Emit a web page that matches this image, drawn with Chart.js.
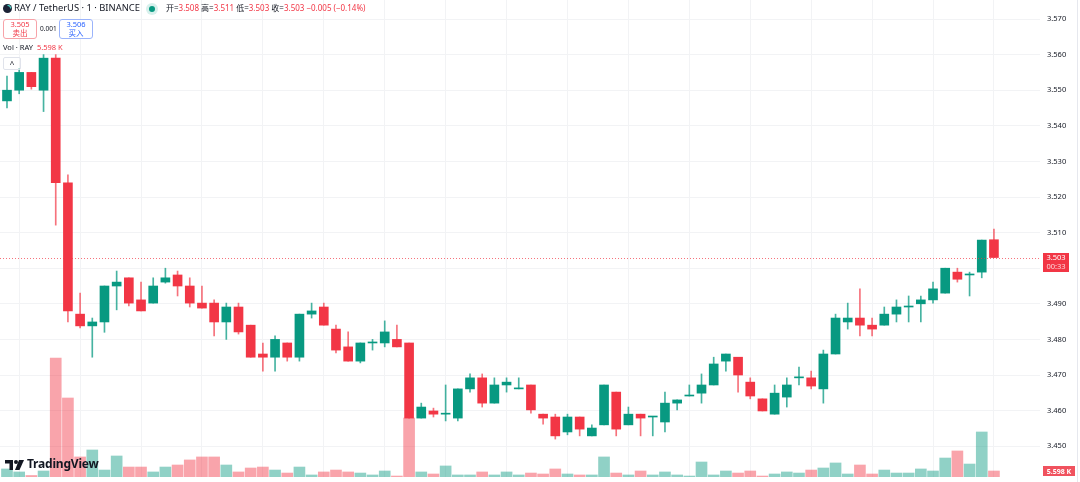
<!DOCTYPE html>
<html>
<head>
<meta charset="utf-8">
<script src="https://cdn.jsdelivr.net/npm/chart.js@4.4.1/dist/chart.umd.min.js"></script>
<style>
    html, body { margin: 0; padding: 0; background: #ffffff; }
    body { width: 1080px; height: 482px; position: relative; overflow: hidden;
           font-family: "Noto Sans", "Noto Sans CJK SC", sans-serif; color: #131722; }
    #wrap { position: absolute; left: 0; top: 0; width: 1080px; height: 482px; }
    .hdr { position: absolute; white-space: nowrap; line-height: 1; }
    .red { color: #F23645; }
    .box { position: absolute; border-radius: 3px; text-align: center; font-size: 7.5px; line-height: 9px; background: #fff; }
    .sell { border: 1px solid #f7a3a9; color: #F23645; }
    .buy { border: 1px solid #9bb4fb; color: #2962FF; }
    .edge { position: absolute; left: 1077px; top: 0; width: 1px; height: 482px; background: #e6e8ee; }
</style>
</head>
<body>
<div id="wrap"><canvas id="candleChart" width="1080" height="482"></canvas></div>
<div class="edge"></div>

<!-- tiêu đề cặp giao dịch -->
<svg class="hdr" style="left:3px;top:4px" width="9" height="9" viewBox="0 0 10 10">
    <circle cx="5" cy="5" r="5" fill="#1b2236"/>
    <path d="M5 1.5 A3.5 3.5 0 0 1 8.5 5" stroke="#4dd0c2" stroke-width="1.4" fill="none"/>
</svg>
<div class="hdr" style="left:14px;top:3px;font-size:9.4px">RAY / TetherUS · 1 · BINANCE</div>
<svg class="hdr" style="left:146px;top:3px" width="12" height="12" viewBox="0 0 12 12">
    <circle cx="6" cy="6" r="6" fill="#d7f0ec"/>
    <circle cx="6" cy="6" r="3" fill="#089981"/>
</svg>
<div class="hdr" style="left:166px;top:4px;font-size:8px">开=<span class="red">3.508</span> 高=<span class="red">3.511</span> 低=<span class="red">3.503</span> 收=<span class="red">3.503</span> <span class="red">−0.005 (−0.14%)</span></div>

<div class="box sell" style="left:3px;top:19px;width:32px;height:18px">3.505<br>卖出</div>
<div class="hdr" style="left:40px;top:26px;font-size:6.5px">0.001</div>
<div class="box buy" style="left:59px;top:19px;width:32px;height:18px">3.506<br>买入</div>

<div class="hdr" style="left:3px;top:44px;font-size:7.5px">Vol · RAY <span class="red" style="margin-left:2px">5.598 K</span></div>
<div class="hdr" style="left:3px;top:57px;width:16px;height:11px;border:1px solid #e0e3eb;border-radius:2px;font-size:8px;text-align:center;line-height:12px">^</div>

<!-- logo -->
<svg class="hdr" style="left:5px;top:460px" width="19" height="10" viewBox="0 0 19 10">
    <path d="M0 0 H8 V10 H4.5 V3.5 H0 Z" fill="#131722"/>
    <circle cx="11" cy="2" r="2" fill="#131722"/>
    <path d="M14 0 H19 L14.5 10 H10 Z" fill="#131722"/>
</svg>
<div class="hdr" style="left:27px;top:458px;font-size:12px;font-weight:bold;letter-spacing:-0.2px">TradingView</div>

<script>
// Dữ liệu nến 1 phút RAY/USDT (mở, cao, thấp, đóng) và khối lượng (K)
const opens  = [3.547, 3.550, 3.555, 3.550, 3.559, 3.524, 3.4871, 3.4838, 3.4849, 3.495,
                3.4973, 3.4911, 3.4902, 3.4961, 3.4981, 3.495, 3.4902, 3.4902, 3.4849, 3.4891,
                3.484, 3.4759, 3.475, 3.479, 3.475, 3.4871, 3.4891, 3.4829, 3.4779, 3.4739,
                3.479, 3.479, 3.480, 3.479, 3.4579, 3.4599, 3.459, 3.4579, 3.4661, 3.4692,
                3.4621, 3.4672, 3.4661, 3.4672, 3.459, 3.4582, 3.454, 3.4582, 3.4529, 3.456,
                3.4652, 3.456, 3.459, 3.4582, 3.4568, 3.4621, 3.4641, 3.4649, 3.4672, 3.4739,
                3.475, 3.468, 3.4633, 3.459, 3.4638, 3.4692, 3.4692, 3.4661, 3.4759, 3.4849,
                3.486, 3.484, 3.484, 3.4871, 3.4891, 3.490, 3.4911, 3.493, 3.4989, 3.4981,
                3.4989, 3.508];
const highs  = [3.554, 3.556, 3.555, 3.560, 3.560, 3.5262, 3.493, 3.486, 3.495, 3.4992,
                3.4973, 3.4961, 3.4973, 3.500, 3.4992, 3.4973, 3.495, 3.4911, 3.4902, 3.4902,
                3.484, 3.479, 3.481, 3.479, 3.4871, 3.4902, 3.4902, 3.484, 3.4821, 3.479,
                3.480, 3.4852, 3.484, 3.479, 3.4621, 3.4607, 3.4672, 3.4661, 3.4703, 3.4703,
                3.4692, 3.4692, 3.4692, 3.4672, 3.459, 3.459, 3.459, 3.4582, 3.456, 3.4672,
                3.4652, 3.461, 3.459, 3.4582, 3.4652, 3.463, 3.4672, 3.4703, 3.475, 3.4759,
                3.475, 3.4692, 3.4633, 3.4672, 3.4692, 3.4722, 3.4711, 3.477, 3.4871, 3.4902,
                3.4942, 3.486, 3.4891, 3.4911, 3.4922, 3.4922, 3.4961, 3.500, 3.500, 3.4989,
                3.5079, 3.511];
const lows   = [3.545, 3.549, 3.5503, 3.544, 3.5121, 3.4849, 3.4832, 3.475, 3.482, 3.4883,
                3.4894, 3.488, 3.4902, 3.4958, 3.4922, 3.4891, 3.4888, 3.481, 3.480, 3.4815,
                3.475, 3.4711, 3.4711, 3.4739, 3.4739, 3.486, 3.484, 3.4762, 3.4739, 3.4734,
                3.477, 3.4779, 3.4779, 3.4579, 3.4579, 3.4582, 3.4571, 3.4571, 3.4652, 3.461,
                3.4621, 3.4652, 3.4661, 3.4593, 3.4562, 3.452, 3.4532, 3.4529, 3.4529, 3.456,
                3.4529, 3.456, 3.4529, 3.4529, 3.454, 3.4602, 3.4641, 3.4621, 3.4672, 3.4711,
                3.4652, 3.4633, 3.4599, 3.459, 3.461, 3.4672, 3.4661, 3.4621, 3.4759, 3.4829,
                3.481, 3.481, 3.484, 3.4849, 3.4849, 3.4849, 3.4902, 3.493, 3.4961, 3.4922,
                3.4973, 3.503];
const closes = [3.550, 3.555, 3.551, 3.559, 3.524, 3.488, 3.4838, 3.4849, 3.495, 3.4961,
                3.4902, 3.488, 3.495, 3.4973, 3.495, 3.4902, 3.4888, 3.4849, 3.4891, 3.4821,
                3.475, 3.475, 3.480, 3.475, 3.4871, 3.488, 3.484, 3.477, 3.4739, 3.479,
                3.479, 3.4821, 3.4779, 3.4579, 3.461, 3.4590, 3.459, 3.4661, 3.4692, 3.4621,
                3.4672, 3.468, 3.4661, 3.4602, 3.4579, 3.4529, 3.4582, 3.4548, 3.4551, 3.4672,
                3.4548, 3.459, 3.4579, 3.4582, 3.4621, 3.463, 3.4641, 3.4672, 3.4731, 3.4759,
                3.470, 3.4641, 3.4599, 3.4649, 3.4672, 3.4692, 3.4669, 3.4759, 3.486, 3.486,
                3.484, 3.4829, 3.4871, 3.4891, 3.4891, 3.4911, 3.4942, 3.500, 3.4969, 3.4981,
                3.5079, 3.503];
const volumes = [7.5, 4.7, 1.4, 5.6, 111, 73.7, 18.7, 25.2, 6.5, 19.6,
                 9.3, 9.3, 4.7, 9.3, 11.2, 15.9, 18.7, 18.7, 11.2, 4.7,
                 8.4, 9.3, 6.5, 3.7, 9.3, 1.9, 4.7, 6.5, 4.7, 3.7,
                 1.9, 5.6, 0.9, 55, 4.7, 2.8, 10.3, 1.9, 1.9, 4.7,
                 1.9, 4.7, 1.9, 3.7, 2.8, 7.5, 2.8, 1.9, 1.9, 18.7,
                 3.7, 1.9, 5.6, 1.9, 4.7, 1.9, 0.9, 14, 1.9, 5.6,
                 3.7, 5.6, 0.9, 2.8, 4.7, 3.7, 6.5, 8.4, 13.1, 2.8,
                 11.2, 2.8, 6.5, 3.7, 3.7, 7.5, 5.6, 17.7, 24.3, 12.1,
                 42, 5.598];
const priceTicks = [3.450, 3.460, 3.470, 3.480, 3.490, 3.500, 3.510, 3.520, 3.530, 3.540, 3.550, 3.560, 3.570];
const lastPrice = 3.503;
const lastVolume = '5.598 K';
const countdown = '00:33';

const UP = '#089981';
const DOWN = '#F23645';

// Nhãn giá hiện tại, đường chấm và nhãn khối lượng
const overlayPlugin = {
    id: 'overlay',
    afterDatasetsDraw(chart) {
        const ctx = chart.ctx;
        const area = chart.chartArea;
        const y = Math.round(chart.scales.y.getPixelForValue(lastPrice)) + 0.5;
        ctx.save();
        ctx.strokeStyle = 'rgba(242, 54, 69, 0.7)';
        ctx.lineWidth = 1;
        ctx.setLineDash([1, 2]);
        ctx.beginPath();
        ctx.moveTo(area.left, y);
        ctx.lineTo(area.right, y);
        ctx.stroke();
        ctx.restore();
    },
    afterDraw(chart) {
        const ctx = chart.ctx;
        const y = chart.scales.y.getPixelForValue(lastPrice);
        ctx.save();
        ctx.fillStyle = DOWN;
        ctx.fillRect(1043, Math.round(y) - 5, 26, 19);
        ctx.fillStyle = '#ffffff';
        ctx.font = '7.5px "Noto Sans", sans-serif';
        ctx.textAlign = 'center';
        ctx.textBaseline = 'middle';
        ctx.fillText(lastPrice.toFixed(3), 1056, Math.round(y));
        ctx.fillStyle = 'rgba(255,255,255,0.8)';
        ctx.fillText(countdown, 1056, Math.round(y) + 9);
        // nhãn khối lượng
        ctx.fillStyle = '#F0525E';
        ctx.fillRect(1043, 466, 32, 10);
        ctx.fillStyle = '#ffffff';
        ctx.font = 'bold 7px "Noto Sans", sans-serif';
        ctx.fillText(lastVolume, 1059, 471.5);
        ctx.restore();
    }
};

document.addEventListener('DOMContentLoaded', function() {
    const ctx = document.getElementById('candleChart');
    const idx = closes.map((c, i) => i);
    const isUp = idx.map(i => closes[i] >= opens[i]);

    new Chart(ctx, {
        type: 'bar',
        data: {
            datasets: [
                {
                    label: 'body',
                    data: idx.map(i => ({ x: i, y: [opens[i], closes[i]] })),
                    backgroundColor: isUp.map(u => u ? UP : DOWN),
                    barThickness: 9,
                    minBarLength: 1,
                    grouped: false,
                    yAxisID: 'y',
                    order: 1
                },
                {
                    label: 'wick',
                    data: idx.map(i => ({ x: i, y: [lows[i], highs[i]] })),
                    backgroundColor: isUp.map(u => u ? 'rgba(8,153,129,0.75)' : 'rgba(242,54,69,0.7)'),
                    barThickness: 1,
                    grouped: false,
                    yAxisID: 'y',
                    order: 2
                },
                {
                    label: 'volume',
                    data: idx.map(i => ({ x: i, y: volumes[i] })),
                    backgroundColor: isUp.map(u => u ? 'rgba(8,153,129,0.45)' : 'rgba(242,54,69,0.45)'),
                    barThickness: 11,
                    grouped: false,
                    yAxisID: 'vol',
                    order: 3
                }
            ]
        },
        options: {
            responsive: false,
            animation: false,
            layout: {
                padding: { top: 0, bottom: 5, left: 0, right: 0 }
            },
            plugins: {
                legend: { display: false },
                tooltip: { enabled: false }
            },
            scales: {
                x: {
                    type: 'linear',
                    offset: false,
                    min: -0.574,
                    max: 84.78,
                    afterBuildTicks: function(scale) {
                        // lưới dọc mỗi 5 nến
                        scale.ticks = idx.filter(i => i % 5 === 1).map(i => ({ value: i }));
                    },
                    afterFit: function(scale) {
                        scale.height = 0;
                        scale.paddingLeft = 0;
                        scale.paddingRight = 0;
                    },
                    grid: {
                        color: '#f2f3f5',
                        offset: false,
                        drawTicks: false
                    },
                    ticks: { display: false },
                    border: { display: false }
                },
                y: {
                    position: 'right',
                    min: 3.44135,
                    max: 3.57534,
                    afterBuildTicks: function(scale) {
                        scale.ticks = priceTicks.map(v => ({ value: v }));
                    },
                    afterFit: function(scale) {
                        scale.width = 40;
                        scale.paddingTop = 0;
                        scale.paddingBottom = 0;
                    },
                    grid: {
                        color: '#f2f3f5',
                        drawTicks: false
                    },
                    border: { display: false },
                    ticks: {
                        padding: 7,
                        color: '#131722',
                        font: {
                            family: '"Noto Sans", sans-serif',
                            size: 7.5
                        },
                        callback: function(value) {
                            return value.toFixed(3);
                        }
                    }
                },
                vol: {
                    display: false,
                    min: 0,
                    max: 445
                }
            }
        },
        plugins: [overlayPlugin]
    });
});
</script>
</body>
</html>
